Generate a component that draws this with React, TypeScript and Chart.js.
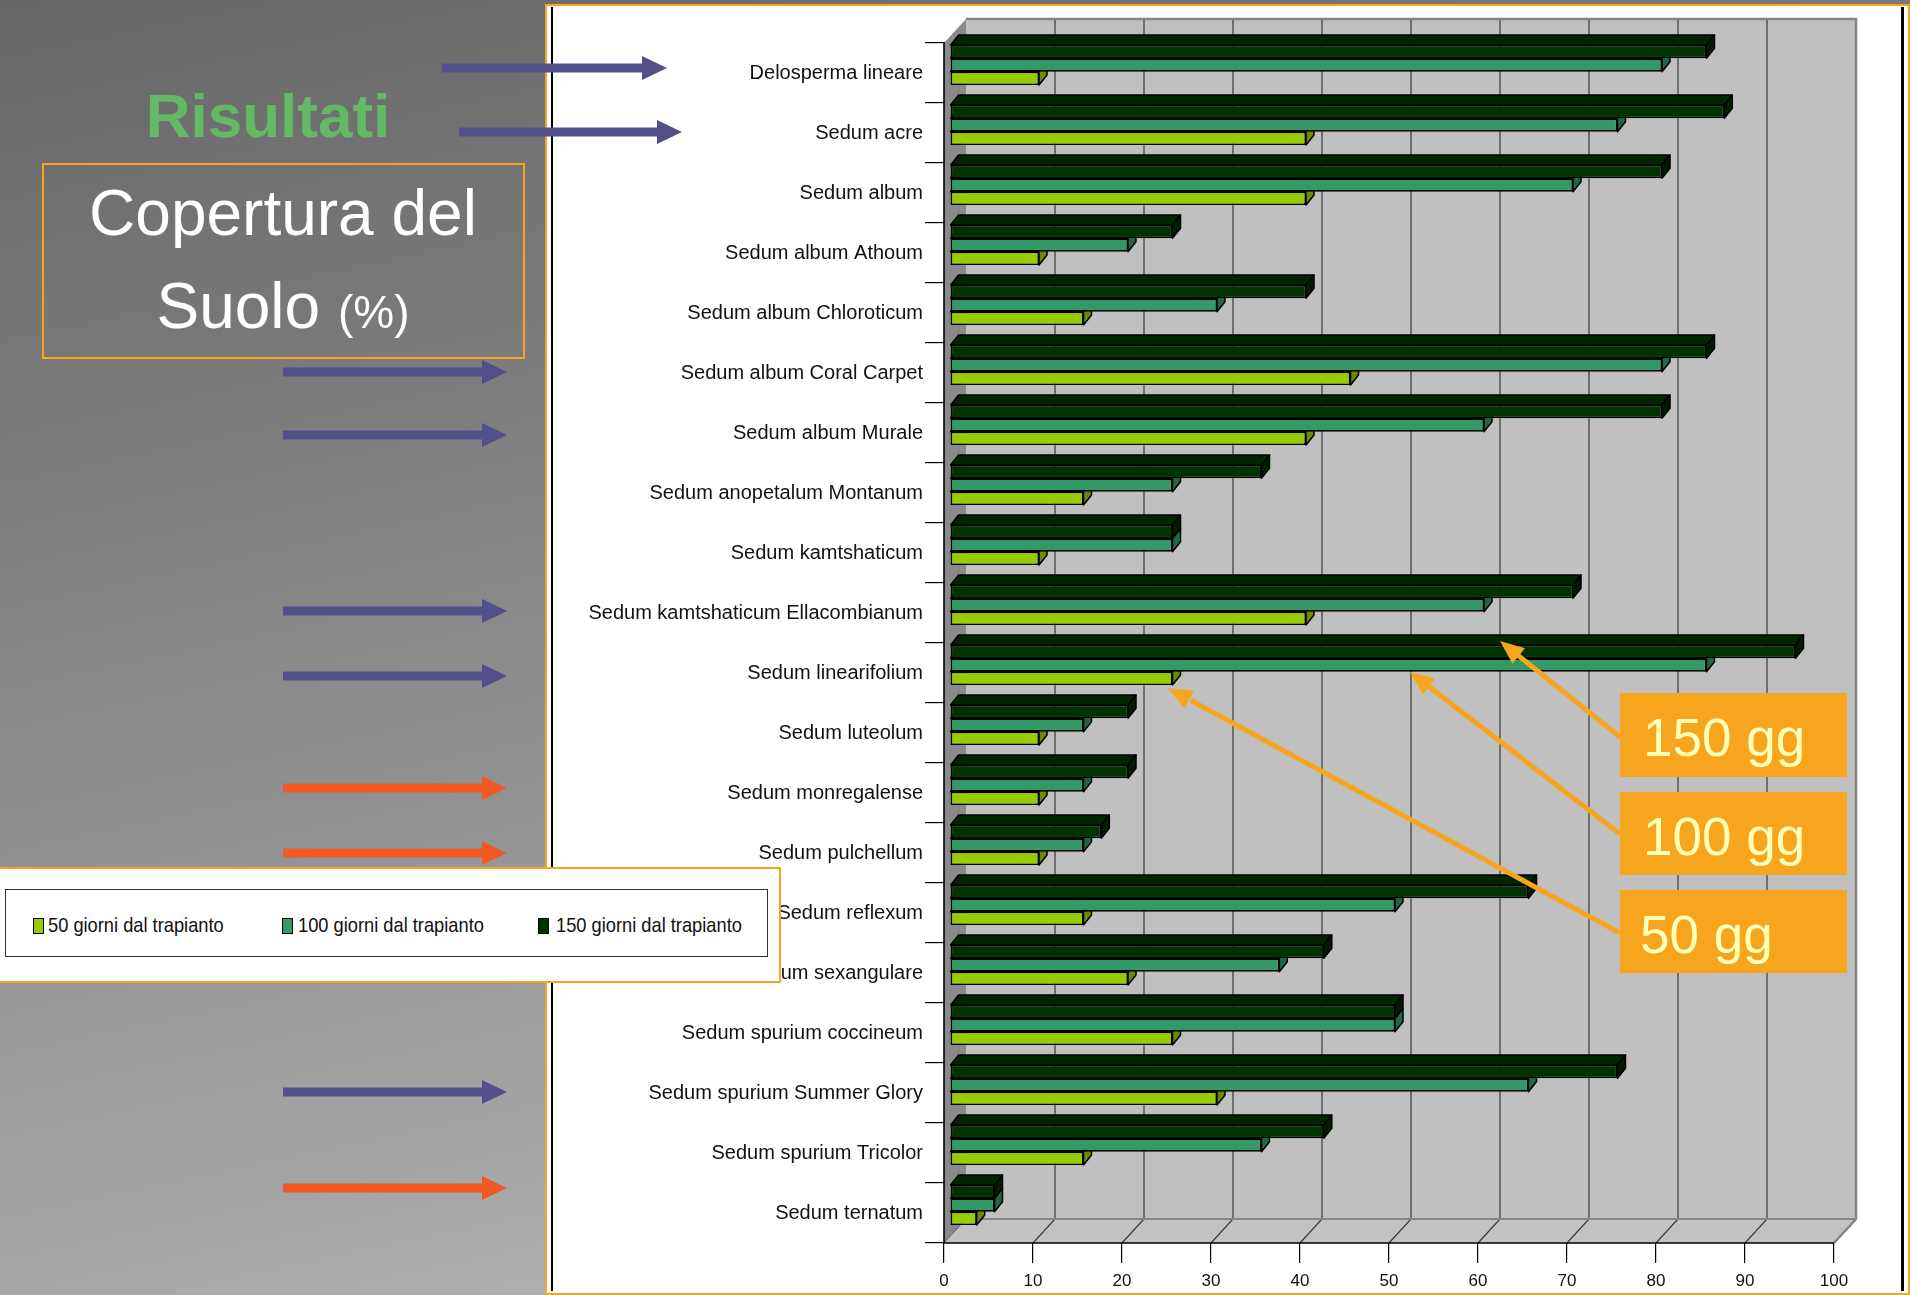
import React, { useEffect, useRef } from "react";
import { Chart, registerables } from "chart.js";

Chart.register(...registerables);

// ---------------- data ----------------
const categories = [
  "Delosperma lineare",
  "Sedum acre",
  "Sedum album",
  "Sedum album Athoum",
  "Sedum album Chloroticum",
  "Sedum album Coral Carpet",
  "Sedum album Murale",
  "Sedum anopetalum Montanum",
  "Sedum kamtshaticum",
  "Sedum kamtshaticum Ellacombianum",
  "Sedum linearifolium",
  "Sedum luteolum",
  "Sedum monregalense",
  "Sedum pulchellum",
  "Sedum reflexum",
  "Sedum sexangulare",
  "Sedum spurium coccineum",
  "Sedum spurium Summer Glory",
  "Sedum spurium Tricolor",
  "Sedum ternatum",
];
const days50 = [10, 40, 40, 10, 15, 45, 40, 15, 10, 40, 25, 10, 10, 10, 15, 20, 25, 30, 15, 3];
const days100 = [80, 75, 70, 20, 30, 80, 60, 25, 25, 60, 85, 15, 15, 15, 50, 37, 50, 65, 35, 5];
const days150 = [85, 87, 80, 25, 40, 85, 80, 35, 25, 70, 95, 20, 20, 17, 65, 42, 50, 75, 42, 5];
const seriesNames = ["50 giorni dal trapianto", "100 giorni dal trapianto", "150 giorni dal trapianto"];
const xMin = 0;
const xMax = 100;
const xStep = 10;
const titleText = "Risultati";
const subtitleLine1 = "Copertura del";
const subtitleLine2 = "Suolo";
const subtitleUnit = "(%)";
const calloutLabels = ["150 gg", "100 gg", "50 gg"];

// ---------------- styles ----------------
const FONT = "'Liberation Sans', Arial, Helvetica, sans-serif";
const FRONT = ["#99cc00", "#339966", "#003300"];
const TOPC = ["#7fa800", "#2b8257", "#002600"];
const SIDEC = ["#6a8c00", "#226644", "#001d00"];
const ORANGE = "#f7a51e";
const PURPLE = "#52508a";
const RED = "#f05a22";

const WALL_DX = 22;
const WALL_DY = 24;
const BAR_SHIFT_X = 6;
const BAR_SHIFT_Y = -8;
const BAR_DX = 8;
const BAR_DY = 10;

const sideArrows = [
  { x1: 442, x2: 667, y: 68, c: PURPLE },
  { x1: 459, x2: 682, y: 132, c: PURPLE },
  { x1: 283, x2: 507, y: 372, c: PURPLE },
  { x1: 283, x2: 507, y: 435, c: PURPLE },
  { x1: 283, x2: 507, y: 611, c: PURPLE },
  { x1: 283, x2: 507, y: 676, c: PURPLE },
  { x1: 283, x2: 507, y: 788, c: RED },
  { x1: 283, x2: 507, y: 853, c: RED },
  { x1: 283, x2: 507, y: 1092, c: PURPLE },
  { x1: 283, x2: 507, y: 1188, c: RED },
];

const callouts = [
  { top: 693, h: 84, tx: 1643, from: [1620, 737], to: [1500, 641] },
  { top: 792, h: 83, tx: 1643, from: [1620, 834], to: [1410, 672] },
  { top: 890, h: 83, tx: 1640, from: [1620, 933], to: [1168, 688] },
];

const threeDPlugin = {
  id: "threeD",
  beforeDatasetsDraw(chart: any) {
    const { ctx, chartArea: a } = chart;
    const xs = chart.scales.x;
    const L = a.left, R = a.right, T = a.top, B = a.bottom;
    ctx.save();
    // back wall
    ctx.fillStyle = "#c0c0c0";
    ctx.fillRect(L + WALL_DX, T - WALL_DY, R - L, B - T);
    // left wall
    ctx.fillStyle = "#8a8a8a";
    ctx.beginPath();
    ctx.moveTo(L, T);
    ctx.lineTo(L + WALL_DX, T - WALL_DY);
    ctx.lineTo(L + WALL_DX, B - WALL_DY);
    ctx.lineTo(L, B);
    ctx.closePath();
    ctx.fill();
    // floor
    ctx.fillStyle = "#c2c2c2";
    ctx.beginPath();
    ctx.moveTo(L, B);
    ctx.lineTo(L + WALL_DX, B - WALL_DY);
    ctx.lineTo(R + WALL_DX, B - WALL_DY);
    ctx.lineTo(R, B);
    ctx.closePath();
    ctx.fill();
    // gridlines on wall and floor
    ctx.strokeStyle = "#3a3a3a";
    ctx.lineWidth = 1.2;
    for (let v = xMin + xStep; v < xMax; v += xStep) {
      const px = xs.getPixelForValue(v);
      ctx.beginPath();
      ctx.moveTo(px + WALL_DX, T - WALL_DY);
      ctx.lineTo(px + WALL_DX, B - WALL_DY);
      ctx.lineTo(px, B);
      ctx.stroke();
    }
    // outlines
    ctx.strokeStyle = "#858585";
    ctx.lineWidth = 2.5;
    ctx.beginPath();
    ctx.moveTo(L + WALL_DX, T - WALL_DY);
    ctx.lineTo(R + WALL_DX, T - WALL_DY);
    ctx.lineTo(R + WALL_DX, B - WALL_DY);
    ctx.lineTo(R, B);
    ctx.stroke();
    ctx.lineWidth = 2;
    ctx.beginPath();
    ctx.moveTo(L + WALL_DX, B - WALL_DY);
    ctx.lineTo(R + WALL_DX, B - WALL_DY);
    ctx.stroke();
    ctx.strokeStyle = "#5a5a5a";
    ctx.lineWidth = 1;
    ctx.beginPath();
    ctx.moveTo(L, B);
    ctx.lineTo(L + WALL_DX, B - WALL_DY);
    ctx.stroke();
    // front axes
    ctx.strokeStyle = "#000";
    ctx.lineWidth = 1.6;
    ctx.beginPath();
    ctx.moveTo(L, T - 1);
    ctx.lineTo(L, B);
    ctx.lineTo(R, B);
    ctx.stroke();
    ctx.restore();

    // 3D faces of bars (top + side), drawn before the front faces
    ctx.save();
    ctx.translate(BAR_SHIFT_X, BAR_SHIFT_Y);
    ctx.lineWidth = 1.5;
    ctx.lineJoin = "round";
    ctx.strokeStyle = "#000";
    const n = chart.data.datasets.length;
    for (let d = n - 1; d >= 0; d--) {
      const ds: any = chart.data.datasets[d];
      const meta = chart.getDatasetMeta(d);
      meta.data.forEach((el: any) => {
        const p = el.getProps(["x", "y", "base", "height"], true);
        const left = Math.min(p.base, p.x);
        const right = Math.max(p.base, p.x);
        const top = p.y - p.height / 2;
        const bottom = p.y + p.height / 2;
        // top face
        ctx.fillStyle = ds.topColor;
        ctx.beginPath();
        ctx.moveTo(left, top);
        ctx.lineTo(left + BAR_DX, top - BAR_DY);
        ctx.lineTo(right + BAR_DX, top - BAR_DY);
        ctx.lineTo(right, top);
        ctx.closePath();
        ctx.fill();
        ctx.stroke();
        // side face
        ctx.fillStyle = ds.sideColor;
        ctx.beginPath();
        ctx.moveTo(right, top);
        ctx.lineTo(right + BAR_DX, top - BAR_DY);
        ctx.lineTo(right + BAR_DX, bottom - BAR_DY);
        ctx.lineTo(right, bottom);
        ctx.closePath();
        ctx.fill();
        ctx.stroke();
      });
    }
    // translation stays active while Chart.js draws the front faces
  },
  afterDatasetsDraw(chart: any) {
    chart.ctx.restore();
  },
};

function arrowPoints(x1: number, x2: number, y: number) {
  const s = 4.5, hl = 25, hh = 12;
  const hx = x2 - hl;
  return [
    [x1, y - s], [hx, y - s], [hx, y - hh], [x2, y], [hx, y + hh], [hx, y + s], [x1, y + s],
  ].map((p) => p.join(",")).join(" ");
}

function headPoints(from: number[], to: number[]) {
  const dx = to[0] - from[0], dy = to[1] - from[1];
  const len = Math.hypot(dx, dy);
  const ux = dx / len, uy = dy / len;
  const hl = 24, hw = 10;
  const bx = to[0] - ux * hl, by = to[1] - uy * hl;
  return [
    [to[0], to[1]],
    [bx - uy * hw, by + ux * hw],
    [bx + uy * hw, by - ux * hw],
  ].map((p) => p.join(",")).join(" ");
}

export default function App() {
  const canvasRef = useRef<HTMLCanvasElement | null>(null);

  useEffect(() => {
    document.body.style.margin = "0";
    const canvas = canvasRef.current;
    if (!canvas) return;
    const series = [days150, days100, days50];
    const chart = new Chart(canvas, {
      type: "bar",
      data: {
        labels: categories,
        datasets: series.map((vals, i) => ({
          label: seriesNames[2 - i],
          data: vals,
          backgroundColor: FRONT[2 - i],
          borderColor: "#000",
          borderWidth: 1.6,
          borderSkipped: false,
          topColor: TOPC[2 - i],
          sideColor: SIDEC[2 - i],
          categoryPercentage: 0.667,
          barPercentage: 1.0,
        })) as any,
      },
      options: {
        indexAxis: "y",
        responsive: false,
        animation: false,
        devicePixelRatio: 1,
        layout: { padding: { left: 0, right: 76, top: 43, bottom: 7 } },
        plugins: {
          legend: { display: false },
          tooltip: { enabled: false },
          title: { display: false },
        },
        scales: {
          y: {
            type: "category",
            grid: {
              display: true,
              drawOnChartArea: false,
              drawTicks: true,
              tickLength: 19,
              color: "#000",
              lineWidth: 1.2,
              offset: true,
            },
            border: { display: false },
            ticks: {
              color: "#111",
              padding: 2,
              font: { family: FONT, size: 20 },
              autoSkip: false,
            },
            afterFit: (s: any) => {
              s.width = 944;
            },
          },
          x: {
            type: "linear",
            min: xMin,
            max: xMax,
            grid: {
              display: true,
              drawOnChartArea: false,
              drawTicks: true,
              tickLength: 20,
              color: "#000",
              lineWidth: 1.2,
            },
            border: { display: false },
            ticks: {
              stepSize: xStep,
              color: "#111",
              padding: 8,
              font: { family: FONT, size: 17 },
            },
            afterFit: (s: any) => {
              s.height = 45;
            },
          },
        },
      },
      plugins: [threeDPlugin],
    });
    return () => chart.destroy();
  }, []);

  const abs = (o: React.CSSProperties): React.CSSProperties => ({ position: "absolute", ...o });

  return (
    <div
      style={{
        position: "fixed",
        left: 0,
        top: 0,
        width: 1910,
        height: 1295,
        overflow: "hidden",
        background: "linear-gradient(168deg, #676767 0%, #7e7e7e 30%, #a6a6a6 75%, #c2c2c2 100%)",
        fontFamily: FONT,
      }}
    >
      {/* white chart frame */}
      <div
        style={abs({
          left: 545,
          top: 4,
          width: 1361,
          height: 1287,
          background: "#fff",
          border: `2px solid ${ORANGE}`,
        })}
      />
      <div style={abs({ left: 551, top: 7, width: 2, height: 1284, background: "#000" })} />
      <div style={abs({ left: 1901, top: 7, width: 3, height: 1284, background: "#000" })} />

      <canvas
        ref={canvasRef}
        width={1910}
        height={1295}
        style={abs({ left: 0, top: 0, width: 1910, height: 1295, display: "block" })}
      />

      {/* title */}
      <div
        style={abs({
          left: 0,
          width: 536,
          top: 85,
          textAlign: "center",
          fontSize: 62,
          lineHeight: "62px",
          fontWeight: "bold",
          color: "#63b964",
          whiteSpace: "nowrap",
        })}
      >
        {titleText}
      </div>

      {/* subtitle box */}
      <div
        style={abs({
          left: 42,
          top: 163,
          width: 479,
          height: 192,
          border: `2px solid ${ORANGE}`,
        })}
      />
      <div
        style={abs({
          left: 43,
          width: 480,
          top: 181,
          textAlign: "center",
          fontSize: 64,
          lineHeight: "64px",
          color: "#fff",
          whiteSpace: "nowrap",
        })}
      >
        {subtitleLine1}
      </div>
      <div
        style={abs({
          left: 43,
          width: 480,
          top: 274,
          textAlign: "center",
          fontSize: 64,
          lineHeight: "64px",
          color: "#fff",
          whiteSpace: "nowrap",
        })}
      >
        {subtitleLine2} <span style={{ fontSize: 46 }}>{subtitleUnit}</span>
      </div>

      {/* legend */}
      <div
        style={abs({
          left: -2,
          top: 867,
          width: 779,
          height: 112,
          background: "#fff",
          border: `2px solid ${ORANGE}`,
        })}
      />
      <div
        style={abs({
          left: 5,
          top: 889,
          width: 761,
          height: 66,
          border: "1.5px solid #333",
          background: "#fff",
        })}
      />
      {[
        { sx: 33, tx: 48 },
        { sx: 282, tx: 298 },
        { sx: 538, tx: 556 },
      ].map((it, i) => (
        <React.Fragment key={i}>
          <div
            style={abs({
              left: it.sx,
              top: 918,
              width: 9,
              height: 14,
              background: FRONT[i],
              border: "1px solid #000",
            })}
          />
          <div
            style={abs({
              left: it.tx,
              top: 914,
              fontSize: 21,
              lineHeight: "21px",
              color: "#111",
              whiteSpace: "nowrap",
              transform: "scaleX(0.87)",
              transformOrigin: "0 0",
            })}
          >
            {seriesNames[i]}
          </div>
        </React.Fragment>
      ))}

      {/* callout boxes */}
      {callouts.map((c, i) => (
        <React.Fragment key={i}>
          <div style={abs({ left: 1620, top: c.top, width: 227, height: c.h, background: ORANGE })} />
          <div
            style={abs({
              left: c.tx,
              top: c.top + 18,
              fontSize: 53,
              lineHeight: "53px",
              color: "#ffffb8",
              whiteSpace: "nowrap",
            })}
          >
            {calloutLabels[i]}
          </div>
        </React.Fragment>
      ))}

      {/* arrows */}
      <svg
        width={1910}
        height={1295}
        style={abs({ left: 0, top: 0, pointerEvents: "none" })}
      >
        {sideArrows.map((a, i) => (
          <polygon key={i} points={arrowPoints(a.x1, a.x2, a.y)} fill={a.c} />
        ))}
        {callouts.map((c, i) => (
          <g key={i}>
            <line
              x1={c.from[0]}
              y1={c.from[1]}
              x2={c.to[0] + (c.from[0] - c.to[0]) * 0.05}
              y2={c.to[1] + (c.from[1] - c.to[1]) * 0.05}
              stroke={ORANGE}
              strokeWidth={5}
            />
            <polygon points={headPoints(c.from, c.to)} fill={ORANGE} />
          </g>
        ))}
      </svg>
    </div>
  );
}
